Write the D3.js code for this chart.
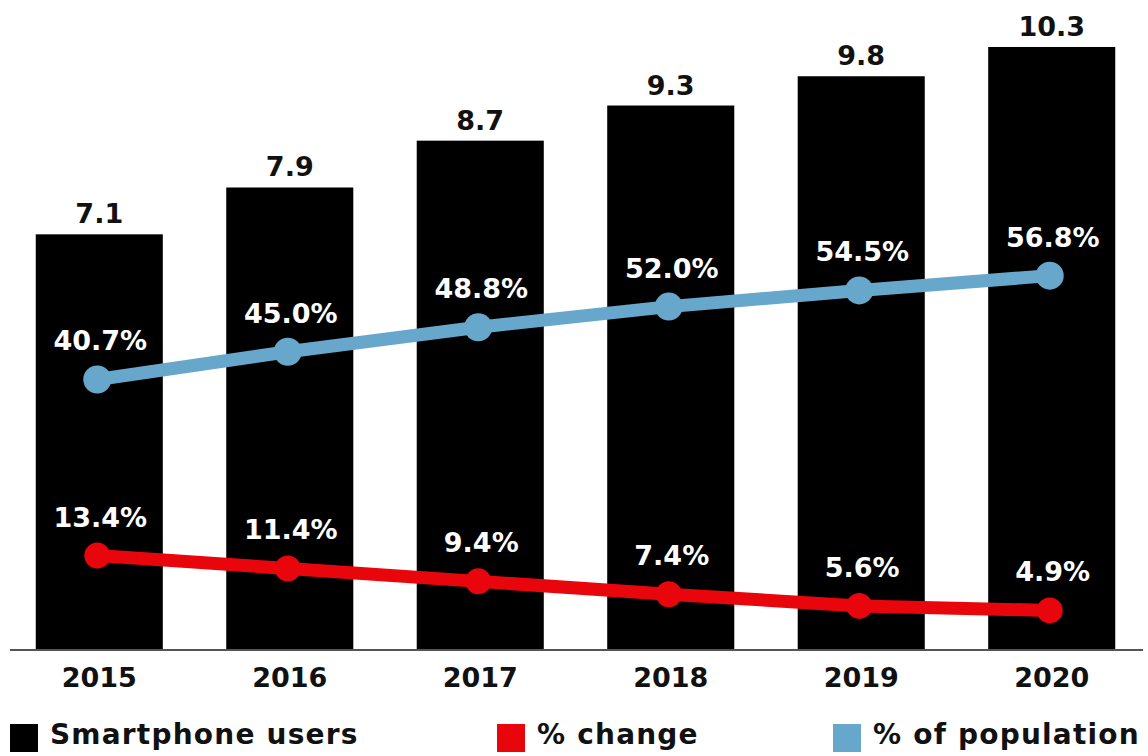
<!DOCTYPE html>
<html>
<head>
<meta charset="utf-8">
<script src="https://cdn.jsdelivr.net/npm/d3@7"></script>
<style>
  body { margin: 0; background: #fff; }
  text { font-family: "DejaVu Sans", Verdana, sans-serif; font-weight: bold; }
</style>
</head>
<body>
<script>
// data
const years = ["2015", "2016", "2017", "2018", "2019", "2020"];
const users = [7.1, 7.9, 8.7, 9.3, 9.8, 10.3];        // smartphone users
const pctChange = [13.4, 11.4, 9.4, 7.4, 5.6, 4.9];   // % change
const pctPopulation = [40.7, 45.0, 48.8, 52.0, 54.5, 56.8]; // % of population
const legendLabels = ["Smartphone users", "% change", "% of population"];

const width = 1148, height = 756;
const red = "#e8060c", blue = "#68a7cc";

const svg = d3.select("body")
    .append("svg")
    .attr("width", width)
    .attr("height", height);

// x scale for the bars
const x = d3.scaleBand()
    .domain(years)
    .range([4, 1147])
    .paddingInner(0.333)
    .paddingOuter(0.1667);

// bar scale
const y = d3.scaleLinear()
    .domain([0, 11])
    .range([650, 6]);

// percent scale, shared by both lines
const yPct = d3.scaleLinear()
    .domain([0, 100])
    .range([642, -3]);

const cx = d => x(d) + x.bandwidth() / 2 - 2;

// bars
svg.selectAll(".bar")
    .data(years)
    .enter()
    .append("rect")
    .attr("class", "bar")
    .attr("x", d => x(d))
    .attr("y", (d, i) => y(users[i]))
    .attr("width", x.bandwidth())
    .attr("height", (d, i) => y(0) - y(users[i]))
    .attr("fill", "#000");

// bar value labels
svg.selectAll(".bar-label")
    .data(years)
    .enter()
    .append("text")
    .attr("class", "bar-label")
    .attr("x", d => x(d) + x.bandwidth() / 2)
    .attr("y", (d, i) => y(users[i]) - 11)
    .attr("text-anchor", "middle")
    .attr("font-size", "27px")
    .attr("fill", "#111")
    .text((d, i) => users[i].toFixed(1));

// baseline
svg.append("line")
    .attr("x1", 10)
    .attr("x2", 1143)
    .attr("y1", y(0))
    .attr("y2", y(0))
    .attr("stroke", "#555")
    .attr("stroke-width", 2);

// year labels
svg.selectAll(".year")
    .data(years)
    .enter()
    .append("text")
    .attr("class", "year")
    .attr("x", d => x(d) + x.bandwidth() / 2)
    .attr("y", 687)
    .attr("text-anchor", "middle")
    .attr("font-size", "27px")
    .attr("fill", "#111")
    .text(d => d);

// draw one line series with dots + labels
function drawSeries(values, color, r) {
    const line = d3.line()
        .x((d, i) => cx(years[i]))
        .y(d => yPct(d));

    svg.append("path")
        .datum(values)
        .attr("d", line)
        .attr("fill", "none")
        .attr("stroke", color)
        .attr("stroke-width", 13);

    svg.append("g")
        .selectAll("circle")
        .data(values)
        .enter()
        .append("circle")
        .attr("cx", (d, i) => cx(years[i]))
        .attr("cy", d => yPct(d))
        .attr("r", r)
        .attr("fill", color);

    svg.append("g")
        .selectAll("text")
        .data(values)
        .enter()
        .append("text")
        .attr("x", (d, i) => cx(years[i]) + 3)
        .attr("y", d => yPct(d) - 29)
        .attr("text-anchor", "middle")
        .attr("font-size", "27px")
        .attr("fill", "#fff")
        .text(d => d.toFixed(1) + "%");
}

drawSeries(pctPopulation, blue, 14);
drawSeries(pctChange, red, 13);

// legend
const legendData = [
    { label: legendLabels[0], color: "#000", x: 10 },
    { label: legendLabels[1], color: red, x: 497 },
    { label: legendLabels[2], color: blue, x: 833 }
];

const legendItems = svg.selectAll(".legend-item")
    .data(legendData)
    .enter()
    .append("g")
    .attr("class", "legend-item")
    .attr("transform", d => `translate(${d.x}, 724)`);

legendItems.append("rect")
    .attr("width", 28)
    .attr("height", 28)
    .attr("fill", d => d.color);

legendItems.append("text")
    .attr("x", 40)
    .attr("y", 20)
    .attr("font-size", "28px")
    .attr("letter-spacing", "1.2px")
    .attr("fill", "#111")
    .text(d => d.label);
</script>
</body>
</html>
